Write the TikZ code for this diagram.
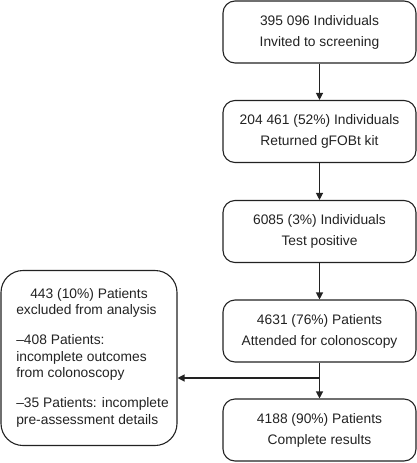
\documentclass[tikz,border=0pt]{standalone}
\usepackage{fontspec}
\setmainfont{Liberation Sans}
\usetikzlibrary{arrows.meta}
\definecolor{ink}{HTML}{222222}
\begin{document}
\begin{tikzpicture}[x=1pt,y=-1pt,
  stagebox/.style={draw=ink, line width=1.1pt, rounded corners=12pt,
    minimum width=193pt, minimum height=62pt, align=center, text=ink,
    font=\fontsize{13.8}{21}\selectfont, inner sep=0pt},
  exbox/.style={draw=ink, line width=1.1pt, rounded corners=22pt,
    minimum width=176pt, minimum height=175pt, text=ink,
    font=\fontsize{13.8}{16.5}\selectfont, inner sep=0pt},
  arr/.style={draw=ink, line width=1.2pt, -{Triangle[length=7pt,width=7pt]}}]
\useasboundingbox (0,0) rectangle (417,463);
\node[stagebox] (b1) at (319.5,32) {395 096 Individuals\\Invited to screening};
\node[stagebox] (b2) at (319.5,131.5) {204 461 (52\%) Individuals\\Returned gFOBt kit};
\node[stagebox] (b3) at (319.5,231.5) {6085 (3\%) Individuals\\Test positive};
\node[stagebox] (b4) at (319.5,331) {4631 (76\%) Patients\\Attended for colonoscopy};
\node[stagebox] (b5) at (319.5,430) {4188 (90\%) Patients\\Complete results};
\node[exbox] (ex) at (89,358) {\begin{tabular}{@{\hspace{7pt}}l@{}}
  \multicolumn{1}{@{}c@{}}{443 (10\%) Patients}\\
  excluded from analysis\\[13.5pt]
  –408 Patients:\\
  incomplete outcomes\\
  from colonoscopy\\[13.5pt]
  –35 Patients: incomplete\\
  pre-assessment details
  \end{tabular}};
\coordinate (j) at (319.5,378);
\draw[arr] (b1) -- (b2);
\draw[arr] (b2) -- (b3);
\draw[arr] (b3) -- (b4);
\draw[arr] (b4) -- (b5);
\draw[arr] (j) -- (j -| ex.east);
\end{tikzpicture}
\end{document}
